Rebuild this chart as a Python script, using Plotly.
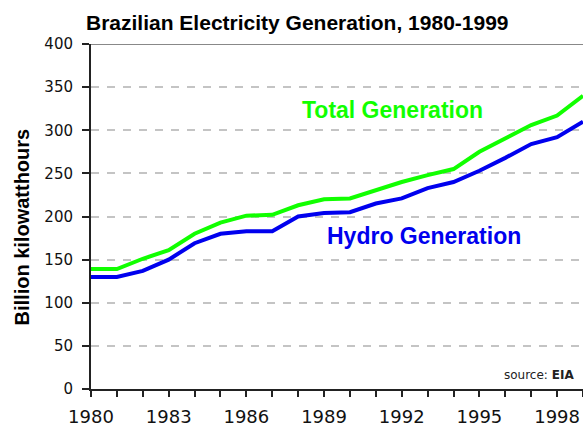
import plotly.graph_objects as go

years = list(range(1980, 2000))
total_generation = [139, 139, 151, 161, 180, 193, 201, 202, 213, 220, 221, 231, 240, 248, 255, 275, 290, 306, 317, 340]
hydro_generation = [130, 130, 137, 150, 169, 180, 183, 183, 200, 204, 205, 215, 221, 233, 240, 253, 268, 284, 292, 310]
x_tick_labels = [str(y) if (y - 1980) % 3 == 0 else "" for y in years]
y_ticks = [0, 50, 100, 150, 200, 250, 300, 350, 400]

FONT = "Liberation Sans, Arial, sans-serif"
TICKFONT = "DejaVu Sans, Verdana, sans-serif"
GREEN = "#11ff00"
BLUE = "#0000ee"

fig = go.Figure()
fig.add_trace(go.Scatter(x=years, y=total_generation, mode="lines",
                         line=dict(color=GREEN, width=4), cliponaxis=False, showlegend=False))
fig.add_trace(go.Scatter(x=years, y=hydro_generation, mode="lines",
                         line=dict(color=BLUE, width=4), cliponaxis=False, showlegend=False))

fig.update_layout(
    width=583, height=429,
    margin=dict(l=91, r=0, t=44, b=40),
    paper_bgcolor="white", plot_bgcolor="white",
    font=dict(family=FONT, color="black"),
    showlegend=False,
)

fig.update_xaxes(
    range=[1980, 1999], tickmode="array", tickvals=years, ticktext=x_tick_labels,
    ticks="outside", ticklen=6, tickwidth=2, tickcolor="#222",
    showline=True, linecolor="#222", linewidth=2,
    showgrid=False, zeroline=False,
    tickfont=dict(size=18, family=TICKFONT, color="#111"),
    ticklabelstandoff=4,
)
fig.update_yaxes(
    range=[0, 400], tickmode="array", tickvals=y_ticks,
    ticks="outside", ticklen=7, tickwidth=2, tickcolor="#222",
    showline=True, linecolor="#222", linewidth=2,
    showgrid=True, gridcolor="#c4c4c4", gridwidth=2, griddash="8px,8px",
    zeroline=False,
    tickfont=dict(size=15, family=TICKFONT, color="#111"),
    ticklabelstandoff=6,
)

# top border line at 400
fig.add_shape(type="line", xref="paper", x0=0, x1=1, yref="y", y0=400, y1=400,
              line=dict(color="#888888", width=2))

fig.add_annotation(text="<b>Brazilian Electricity Generation, 1980-1999</b>",
                   xref="paper", yref="paper", x=0.42, y=1.0, yshift=22,
                   xanchor="center", yanchor="middle", showarrow=False,
                   font=dict(size=21, family=FONT, color="black"))
fig.add_annotation(text="<b>Billion kilowatthours</b>",
                   xref="paper", yref="paper", x=-0.141, y=0.47, textangle=-90,
                   xanchor="center", yanchor="middle", showarrow=False,
                   font=dict(size=20, family=FONT, color="black"))
fig.add_annotation(text="<b>Total Generation</b>",
                   xref="paper", yref="paper", x=(392 - 91) / 492, y=(389 - 110) / 345,
                   xanchor="center", yanchor="middle", showarrow=False,
                   font=dict(size=23, family=FONT, color=GREEN))
fig.add_annotation(text="<b>Hydro Generation</b>",
                   xref="paper", yref="paper", x=(424 - 91) / 492, y=(389 - 236) / 345,
                   xanchor="center", yanchor="middle", showarrow=False,
                   font=dict(size=23, family=FONT, color=BLUE))
fig.add_annotation(text="source: <b>EIA</b>",
                   xref="paper", yref="paper", x=(576 - 91) / 492, y=(389 - 375) / 345,
                   xanchor="right", yanchor="middle", showarrow=False,
                   font=dict(size=12, family=TICKFONT, color="#222"))

fig.write_html("out.html", config={"displayModeBar": False},
               post_script="document.body.style.margin='0';document.body.style.padding='0';")
